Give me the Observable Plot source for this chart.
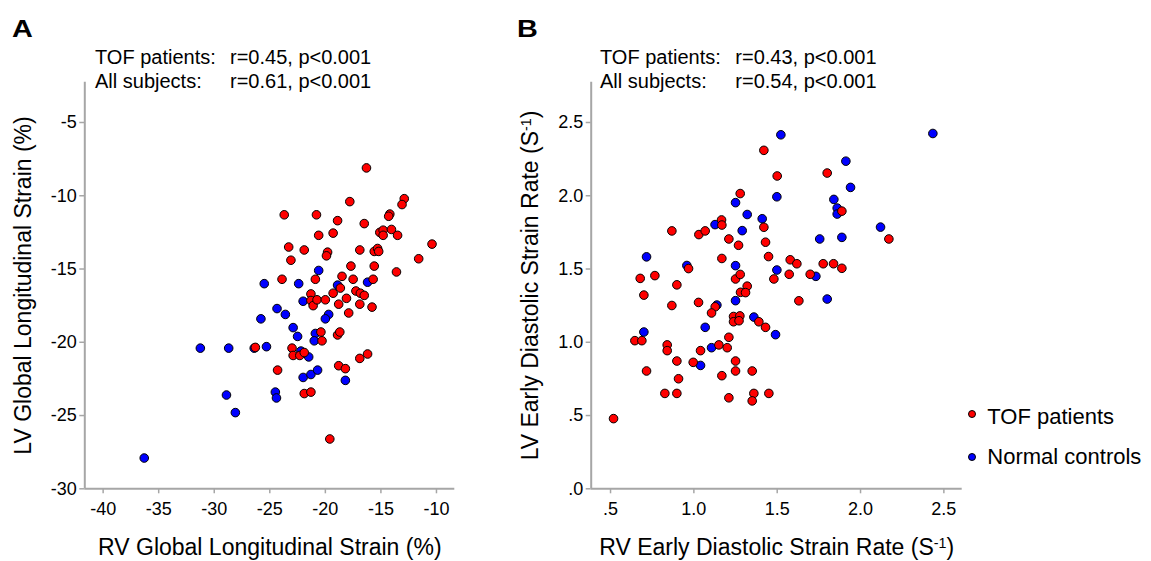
<!DOCTYPE html>
<html>
<head>
<meta charset="utf-8">
<script src="https://cdn.jsdelivr.net/npm/d3@7"></script>
<script src="https://cdn.jsdelivr.net/npm/@observablehq/plot@0.6"></script>
<style>
  body { margin: 0; background: #fff; font-family: "Liberation Sans", Arial, sans-serif; }
  #wrap { position: relative; width: 1151px; height: 561px; overflow: hidden; background: #fff; }
  .abs { position: absolute; white-space: pre; color: #000; }
  .ann { font-size: 20px; line-height: 20px; }
  .letter { font-size: 24px; line-height: 24px; font-weight: bold; transform: scaleX(1.2); transform-origin: left center; }
  .leg { font-size: 22px; line-height: 22px; }
  .dotkey { position: absolute; width: 6px; height: 6px; border: 1px solid #000; border-radius: 50%; }
  #wrap svg { position: absolute; top: 0; }
  g[aria-label="x-axis tick"], g[aria-label="y-axis tick"] { stroke: #a6a6a6; stroke-width: 1.5px; }
  g[aria-label="x-axis label"] text, g[aria-label="y-axis label"] text { font-size: 23px; }
</style>
</head>
<body>
<div id="wrap">
  <div class="abs letter" style="left:12px;top:16.7px;">A</div>
  <div class="abs letter" style="left:516.7px;top:16.7px;">B</div>
  <div class="abs ann" style="left:95px;top:47.4px;">TOF patients:</div>
  <div class="abs ann" style="left:230px;top:47.4px;">r=0.45, p&lt;0.001</div>
  <div class="abs ann" style="left:95px;top:71.4px;">All subjects:</div>
  <div class="abs ann" style="left:230px;top:71.4px;">r=0.61, p&lt;0.001</div>
  <div class="abs ann" style="left:600px;top:47.4px;">TOF patients:</div>
  <div class="abs ann" style="left:735.3px;top:47.4px;">r=0.43, p&lt;0.001</div>
  <div class="abs ann" style="left:600px;top:71.4px;">All subjects:</div>
  <div class="abs ann" style="left:735.3px;top:71.4px;">r=0.54, p&lt;0.001</div>
</div>
<script>
// ---------- Panel A data: RV vs LV global longitudinal strain (%) ----------
const aTofRV = [-16.3,-12.9,-13.1,-17.8,-23.7,-20.8,-14.2,-14.3,-18.9,-16.5,-15.1,-14.8,-14.8,-14.05,-13.5,-20.6,-19.3,-10.4,-23.3,-21.9,-19.8,-19.9,-16.9,-15.6,-15.3,-15.2,-23.1,-11.6,-17.7,-15.6,-13.6,-23.9,-20.9,-18.5,-17.5,-15.7,-21.3,-21.3,-21.1,-20.75,-20.0,-19.3,-18.65,-18.8,-18.1,-17.9,-17.25,-16.85,-16.5,-16.9,-15.8,-20.4,-20.3,-18.9,-18.7,-26.3,-23.0,-22.9,-22.3,-21.9,-24.3,-18.8,-18.2,-16.9,-16.2,-21.9,-21.3,-19.6];
const aTofLV = [-8.1,-10.2,-10.6,-10.4,-11.3,-11.3,-11.25,-11.4,-11.7,-11.9,-12.5,-12.35,-12.7,-12.3,-12.7,-12.7,-12.55,-13.3,-13.5,-13.7,-13.85,-14.1,-13.7,-13.8,-13.6,-13.8,-14.4,-14.3,-14.8,-14.8,-15.2,-15.7,-15.7,-15.5,-15.7,-15.7,-16.7,-17.15,-17.5,-17.1,-17.1,-16.65,-16.3,-17.4,-17.0,-18.0,-16.5,-16.65,-16.8,-17.4,-17.6,-19.3,-19.9,-19.5,-19.3,-20.35,-20.4,-20.9,-20.9,-20.7,-21.9,-21.6,-21.8,-21.1,-20.8,-23.5,-23.4,-26.6];
const aCtrlRV = [-20.6,-25.5,-22.4,-16.2,-18.9,-22.0,-24.35,-23.6,-25.8,-19.7,-20.0,-22.9,-22.5,-20.9,-21.0,-26.4,-25.3,-22.2,-21.5,-22.0,-21.3,-20.7,-18.2,-24.5,-24.4,-31.25,-28.7,-28.9,-28.1,-36.3];
const aCtrlLV = [-15.1,-16.0,-16.0,-15.9,-16.1,-17.2,-17.7,-18.1,-18.4,-18.1,-18.4,-19.0,-19.6,-19.4,-19.9,-20.4,-20.3,-20.6,-21.0,-22.4,-22.2,-21.9,-22.6,-23.4,-23.8,-20.4,-20.4,-23.6,-24.8,-27.9];

// ---------- Panel B data: RV vs LV early diastolic strain rate (1/s) ----------
const bTofRV = [1.42,1.50,1.80,1.278,1.888,1.166,1.168,1.42,0.868,1.03,1.068,1.21,1.43,1.268,2.17,1.168,1.448,1.578,1.618,0.968,1.776,1.838,1.888,0.678,0.766,1.25,1.278,1.48,1.572,1.698,0.70,0.898,1.32,1.28,1.31,0.868,1.028,1.128,1.106,1.63,1.238,1.276,1.238,1.271,1.39,1.43,0.646,0.688,0.84,0.84,1.04,1.15,1.20,1.21,0.898,0.996,1.25,0.716,0.908,1.168,1.25,1.35,0.826,0.898,1.21,1.36,1.35,1.45,0.518];
const bTofLV = [2.31,2.135,2.155,2.015,1.895,1.835,1.80,1.785,1.76,1.735,1.76,1.705,1.683,1.662,1.705,1.572,1.585,1.563,1.536,1.503,1.536,1.536,1.505,1.436,1.455,1.432,1.463,1.432,1.464,1.464,1.322,1.392,1.383,1.341,1.339,1.251,1.272,1.242,1.20,1.283,1.176,1.18,1.14,1.147,1.14,1.102,1.011,1.011,0.982,0.943,0.943,0.982,0.963,1.034,0.872,0.863,0.872,0.804,0.751,0.772,0.804,0.804,0.651,0.651,0.621,0.651,0.60,0.651,0.479];
const bCtrlRV = [1.522,2.434,1.912,1.94,1.498,1.25,1.84,1.86,1.86,1.32,1.127,1.41,1.29,2.12,1.755,1.888,0.716,0.958,1.25,1.498,1.732,1.138,1.25,1.80,1.36,1.49,1.068,0.70,1.106,1.04];
const bCtrlLV = [2.416,2.425,2.236,2.057,1.993,1.953,1.975,1.916,1.875,1.872,1.803,1.843,1.762,1.786,1.705,1.716,1.583,1.524,1.523,1.493,1.45,1.254,1.284,1.295,1.172,1.052,1.102,1.07,0.963,0.842];

// ---------- axes ----------
const aXDomain = [-41.65, -8.35];
const aYDomain = [-30, -2.25];
const aXTicks = [-40, -35, -30, -25, -20, -15, -10];
const aYTicks = [-30, -25, -20, -15, -10, -5];
const bXDomain = [0.384, 2.61];
const bYDomain = [0, 2.775];
const bXTicks = [0.5, 1.0, 1.5, 2.0, 2.5];
const bYTicks = [0, 0.5, 1.0, 1.5, 2.0, 2.5];

const groupNames = ["TOF patients", "Normal controls"];
const groupColors = ["#ff0000", "#0000ff"];
const axisGray = "#a6a6a6";

function rows(xs, ys) { return xs.map((x, i) => ({x, y: ys[i]})); }

function panel({xDomain, yDomain, xTicks, yTicks, fmt, xLabel, yLabel, tof, ctrl, marginLeft, marginRight}) {
  return Plot.plot({
    width: 480,
    height: 561,
    marginLeft, marginRight,
    marginTop: 81.7,
    marginBottom: 72.7,
    style: {fontFamily: "'Liberation Sans', Arial, sans-serif", fontSize: "18px", color: "#000", background: "transparent", overflow: "visible"},
    x: {domain: xDomain, ticks: xTicks, tickFormat: fmt, tickSize: 5, tickPadding: 8,
        label: xLabel, labelAnchor: "center", labelOffset: 66, labelArrow: "none"},
    y: {domain: yDomain, ticks: yTicks, tickFormat: fmt, tickSize: 5, tickPadding: 3,
        label: yLabel, labelAnchor: "center", labelOffset: 70, labelArrow: "none"},
    marks: [
      Plot.ruleY([yDomain[0]], {stroke: axisGray, strokeWidth: 2}),
      Plot.ruleX([xDomain[0]], {stroke: axisGray, strokeWidth: 2}),
      Plot.dot(ctrl, {x: "x", y: "y", r: 4.3, fill: groupColors[1], stroke: "#000", strokeWidth: 1}),
      Plot.dot(tof, {x: "x", y: "y", r: 4.3, fill: groupColors[0], stroke: "#000", strokeWidth: 1})
    ]
  });
}

// turn "(S⁻¹)" in axis labels into S with a real superscript "-1"
function superscriptUnits(svg) {
  svg.querySelectorAll("text").forEach(t => {
    const s = t.textContent;
    const k = s.indexOf("(S⁻¹)");
    if (k < 0) return;
    const ns = "http://www.w3.org/2000/svg";
    const target = t.querySelector("tspan") || t;
    target.textContent = s.slice(0, k) + "(S";
    const sup = document.createElementNS(ns, "tspan");
    sup.setAttribute("dy", "-0.45em");
    sup.setAttribute("font-size", "0.62em");
    sup.textContent = "-1";
    const close = document.createElementNS(ns, "tspan");
    close.setAttribute("dy", "0.28em");
    close.textContent = ")";
    target.appendChild(sup);
    target.appendChild(close);
  });
}

const wrap = document.getElementById("wrap");

const plotA = panel({
  xDomain: aXDomain, yDomain: aYDomain, xTicks: aXTicks, yTicks: aYTicks,
  fmt: d => String(d),
  xLabel: "RV Global Longitudinal Strain (%)",
  yLabel: "LV Global Longitudinal Strain (%)",
  tof: rows(aTofRV, aTofLV), ctrl: rows(aCtrlRV, aCtrlLV),
  marginLeft: 84.3, marginRight: 25.7
});
plotA.style.left = "0px";
wrap.insertBefore(plotA, wrap.firstChild);

const plotB = panel({
  xDomain: bXDomain, yDomain: bYDomain, xTicks: bXTicks, yTicks: bYTicks,
  fmt: d => d.toFixed(1).replace(/^0\./, "."),
  xLabel: "RV Early Diastolic Strain Rate (S⁻¹)",
  yLabel: "LV Early Diastolic Strain Rate (S⁻¹)",
  tof: rows(bTofRV, bTofLV), ctrl: rows(bCtrlRV, bCtrlLV),
  marginLeft: 84.7, marginRight: 24.3
});
plotB.style.left = "506px";
superscriptUnits(plotB);
wrap.insertBefore(plotB, wrap.firstChild.nextSibling);

// legend
const legendTops = [406.4, 446.4];
const dotTops = [410, 452.7];
groupNames.forEach((name, i) => {
  const dot = document.createElement("div");
  dot.className = "dotkey";
  dot.style.left = "968.3px";
  dot.style.top = dotTops[i] + "px";
  dot.style.background = groupColors[i];
  wrap.appendChild(dot);
  const t = document.createElement("div");
  t.className = "abs leg";
  t.style.left = "987.3px";
  t.style.top = legendTops[i] + "px";
  t.textContent = name;
  wrap.appendChild(t);
});
</script>
</body>
</html>
